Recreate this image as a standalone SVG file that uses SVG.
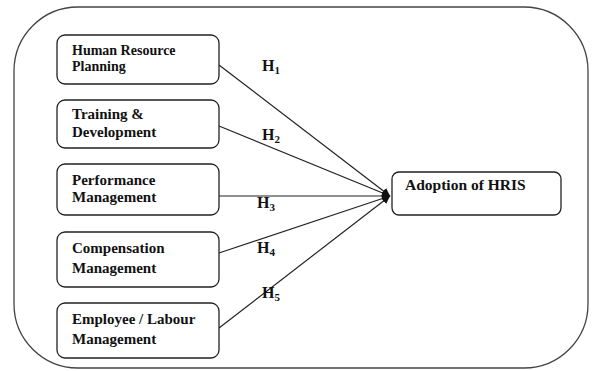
<svg xmlns="http://www.w3.org/2000/svg" width="592" height="371" viewBox="0 0 592 371">
<style>
.box{fill:#fff;stroke:#222;stroke-width:1.3}
.t{font-family:"Liberation Serif","Times New Roman",serif;font-weight:bold;font-size:15px;fill:#111}
.h{font-family:"Liberation Serif","Times New Roman",serif;font-weight:bold;font-size:16px;fill:#111}
.s{font-size:11px}
.c{stroke:#222;stroke-width:1.2;fill:none}
</style>
<defs>
<marker id="ah" viewBox="0 0 10 10" refX="10" refY="5" markerWidth="8" markerHeight="8" markerUnits="userSpaceOnUse" orient="auto">
<path d="M0,0 L10,5 L0,10 z" fill="#111"/>
</marker>
</defs>
<rect x="14" y="7" width="574" height="361" rx="64" ry="64" fill="#fff" stroke="#444" stroke-width="1.3"/>
<g id="connectors">
<line class="c" x1="219" y1="65" x2="390" y2="196" marker-end="url(#ah)"/>
<line class="c" x1="219" y1="126" x2="390" y2="196" marker-end="url(#ah)"/>
<line class="c" x1="219" y1="196" x2="390" y2="196" marker-end="url(#ah)"/>
<line class="c" x1="219" y1="253" x2="390" y2="196" marker-end="url(#ah)"/>
<line class="c" x1="219" y1="328" x2="390" y2="196" marker-end="url(#ah)"/>
<text class="h" x="262" y="71">H<tspan class="s" dy="3">1</tspan></text>
<text class="h" x="262" y="140">H<tspan class="s" dy="3">2</tspan></text>
<text class="h" x="257" y="208">H<tspan class="s" dy="3">3</tspan></text>
<text class="h" x="257" y="253">H<tspan class="s" dy="3">4</tspan></text>
<text class="h" x="262" y="298">H<tspan class="s" dy="3">5</tspan></text>
</g>
<g id="hrp">
<rect class="box" x="57" y="35" width="162" height="49" rx="8"/>
<text class="t" x="72" y="55" style="font-size:14px">Human Resource</text>
<text class="t" x="72" y="71" style="font-size:14px">Planning</text>
</g>
<g id="td">
<rect class="box" x="57" y="100" width="162" height="48" rx="8"/>
<text class="t" x="72" y="119">Training &amp;</text>
<text class="t" x="72" y="137">Development</text>
</g>
<g id="pm">
<rect class="box" x="57" y="164" width="162" height="51" rx="8"/>
<text class="t" x="72" y="185">Performance</text>
<text class="t" x="72" y="202">Management</text>
</g>
<g id="cm">
<rect class="box" x="57" y="232" width="162" height="55" rx="8"/>
<text class="t" x="72" y="253">Compensation</text>
<text class="t" x="72" y="273">Management</text>
</g>
<g id="elm">
<rect class="box" x="57" y="303" width="162" height="55" rx="8"/>
<text class="t" x="72" y="324">Employee / Labour</text>
<text class="t" x="72" y="344">Management</text>
</g>
<g id="hris">
<rect class="box" x="392" y="172" width="169" height="43" rx="7"/>
<text class="t" x="405" y="190" style="font-size:15.5px">Adoption of HRIS</text>
</g>
</svg>
